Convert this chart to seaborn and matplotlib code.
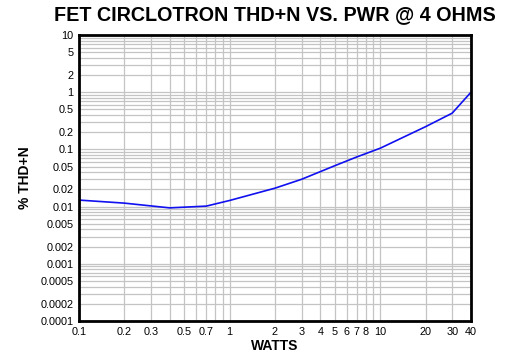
import matplotlib
matplotlib.use("Agg")
import matplotlib.pyplot as plt
import matplotlib.ticker as mticker
import seaborn as sns
import pandas as pd

watts = [0.1, 0.2, 0.4, 0.7, 1, 2, 3, 5, 7, 10, 20, 30, 40]
thd = [0.013, 0.0115, 0.0095, 0.0102, 0.0128, 0.021, 0.030, 0.052, 0.074, 0.105, 0.25, 0.43, 1.0]

x_ticks = [0.1, 0.2, 0.3, 0.5, 0.7, 1, 2, 3, 4, 5, 6, 7, 8, 10, 20, 30, 40]
x_labels = ["0.1", "0.2", "0.3", "0.5", "0.7", "1", "2", "3", "4", "5", "6", "7", "8", "10", "20", "30", "40"]
y_ticks = [10, 5, 2, 1, 0.5, 0.2, 0.1, 0.05, 0.02, 0.01, 0.005, 0.002, 0.001, 0.0005, 0.0002, 0.0001]
y_labels = ["10", "5", "2", "1", "0.5", "0.2", "0.1", "0.05", "0.02", "0.01", "0.005", "0.002", "0.001", "0.0005", "0.0002", "0.0001"]

sns.set_style("white")
plt.rcParams['font.family'] = ['Liberation Sans', 'DejaVu Sans']
plt.rcParams['text.color'] = 'black'
plt.rcParams['axes.labelcolor'] = 'black'

df = pd.DataFrame({"W": watts, "THD": thd})

fig = plt.figure(figsize=(5.2, 3.58), dpi=100)
ax = fig.add_axes([79/520, 1-321/358, (471-79)/520, (321-35)/358])
ax.set_xscale("log")
ax.set_yscale("log")
ax.set_xlim(0.1, 40)
ax.set_ylim(0.0001, 10)

ax.xaxis.set_minor_locator(mticker.LogLocator(base=10, subs=range(1, 10), numticks=20))
ax.yaxis.set_minor_locator(mticker.LogLocator(base=10, subs=range(1, 10), numticks=20))
ax.xaxis.set_minor_formatter(mticker.NullFormatter())
ax.yaxis.set_minor_formatter(mticker.NullFormatter())
ax.grid(True, which="both", color="#c4c4c4", linewidth=0.9)
ax.set_axisbelow(True)

sns.lineplot(data=df, x="W", y="THD", ax=ax, color="#1010f0", linewidth=1.2)

ax.set_xticks(x_ticks)
ax.set_xticklabels(x_labels)
ax.set_yticks(y_ticks)
ax.set_yticklabels(y_labels)
ax.tick_params(axis="both", which="both", length=0, labelsize=7.8, colors="black", pad=4)

for s in ax.spines.values():
    s.set_color("black")
    s.set_linewidth(2)

ax.set_xlabel("WATTS", fontsize=10, fontweight="bold", labelpad=2, color="black")
ax.set_ylabel("% THD+N", fontsize=10, fontweight="bold", labelpad=6, color="black")
fig.text(275/520, 1-15/358, "FET CIRCLOTRON THD+N VS. PWR @ 4 OHMS",
         ha="center", va="center", fontsize=14.2, fontweight="bold", color="black")

fig.savefig("out.png", dpi=100)
